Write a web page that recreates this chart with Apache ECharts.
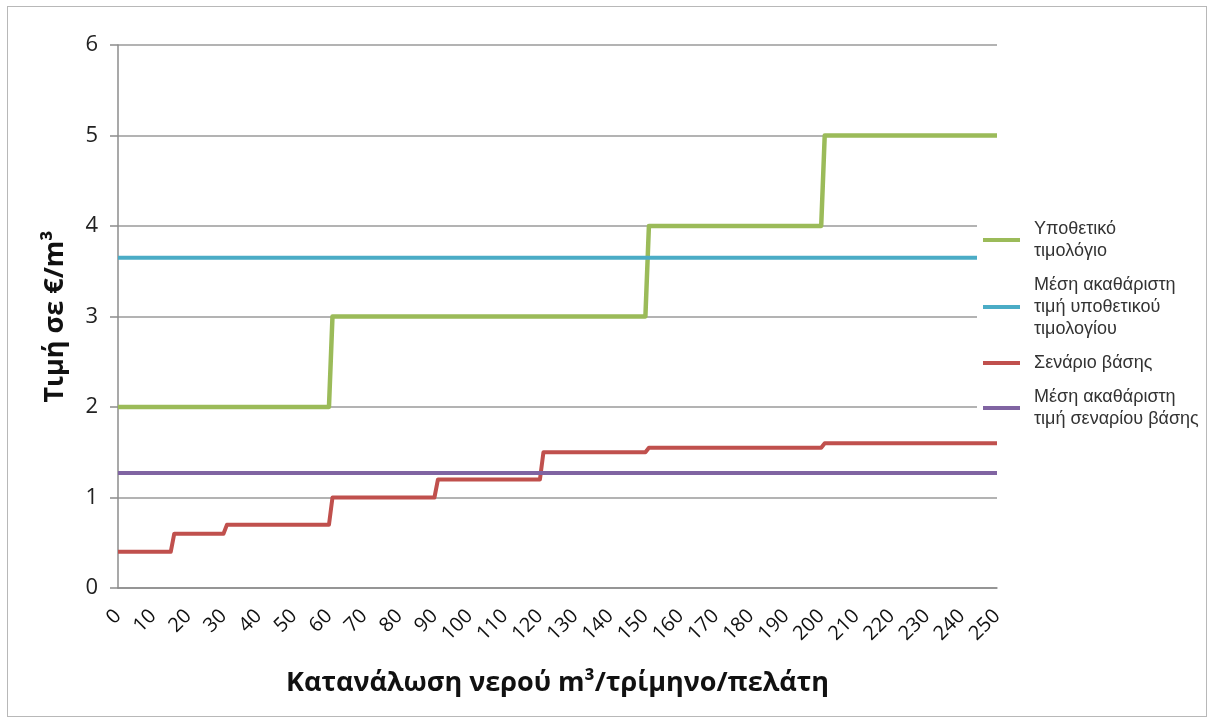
<!DOCTYPE html>
<html>
<head>
<meta charset="utf-8">
<script src="https://cdn.jsdelivr.net/npm/echarts@6/dist/echarts.min.js"></script>
<style>
  html, body { margin: 0; padding: 0; background: #fff; }
  #frame { position: absolute; left: 7px; top: 6px; width: 1198px; height: 709px; border: 1px solid #b8b8b8; z-index: 2; pointer-events: none; }
  #chart { position: absolute; left: 0; top: 0; width: 1211px; height: 722px; }
</style>
</head>
<body>
<div id="chart"></div>
<div id="frame"></div>
<script>
// series names (legend text, wrapped like the original)
var names = [
    'Υποθετικό\nτιμολόγιο',
    'Μέση ακαθάριστη\nτιμή υποθετικού\nτιμολογίου',
    'Σενάριο βάσης',
    'Μέση ακαθάριστη\nτιμή σεναρίου βάσης'
];

// [m3, €/m3] step points
var hypothetical = [[0, 2], [60, 2], [61, 3], [150, 3], [151, 4], [200, 4], [201, 5], [250, 5]];
var hypotheticalAvg = [[0, 3.65], [250, 3.65]];
var baseScenario = [[0, 0.4], [15, 0.4], [16, 0.6], [30, 0.6], [31, 0.7], [60, 0.7], [61, 1.0], [90, 1.0],
    [91, 1.2], [120, 1.2], [121, 1.5], [150, 1.5], [151, 1.55], [200, 1.55], [201, 1.6], [250, 1.6]];
var baseAvg = [[0, 1.27], [250, 1.27]];

var colors = ['#9bbb59', '#4bacc6', '#c0504d', '#8064a2'];

var chart = echarts.init(document.getElementById('chart'), null, {renderer: 'canvas'});

function line(name, data, color, w) {
    return {
        name: name,
        type: 'line',
        data: data,
        symbol: 'none',
        color: color,
        lineStyle: {width: w, color: color, join: 'round'},
        z: 3
    };
}

chart.setOption({
    animation: false,
    color: colors,
    grid: {left: 118, right: 214, top: 45, bottom: 134},
    legend: {
        orient: 'vertical',
        left: 977,
        top: 212,
        padding: [6, 2, 6, 6],
        backgroundColor: '#fff',
        icon: 'rect',
        itemWidth: 37,
        itemHeight: 4,
        itemGap: 12,
        textStyle: {fontFamily: 'Liberation Sans', fontSize: 18, color: '#333', lineHeight: 22, padding: [0, 0, 0, 9]},
        data: names
    },
    xAxis: {
        type: 'value',
        min: 0,
        max: 250,
        interval: 10,
        axisLine: {show: true, lineStyle: {color: '#8c8c8c', width: 1.5}},
        axisTick: {show: false},
        splitLine: {show: false},
        axisLabel: {rotate: 45, margin: 25, fontFamily: 'Open Sans', fontSize: 20, color: '#111'},
        name: 'Κατανάλωση νερού m³/τρίμηνο/πελάτη',
        nameLocation: 'middle',
        nameGap: 82,
        nameTextStyle: {fontFamily: 'Open Sans', fontWeight: 'bold', fontSize: 27, color: '#111'}
    },
    yAxis: {
        type: 'value',
        min: 0,
        max: 6,
        interval: 1,
        axisLine: {show: true, lineStyle: {color: '#8c8c8c', width: 1.5}},
        axisTick: {show: true, length: 8, lineStyle: {color: '#8c8c8c', width: 1.5}},
        splitLine: {lineStyle: {color: '#9a9a9a', width: 1.5}},
        axisLabel: {margin: 20, fontFamily: 'Open Sans', fontSize: 22, color: '#222'},
        name: 'Τιμή σε €/m³',
        nameLocation: 'middle',
        nameGap: 49,
        nameTextStyle: {fontFamily: 'Open Sans', fontWeight: 'bold', fontSize: 27, color: '#111'}
    },
    series: [
        line(names[0], hypothetical, colors[0], 4.5),
        line(names[1], hypotheticalAvg, colors[1], 4),
        line(names[2], baseScenario, colors[2], 4),
        line(names[3], baseAvg, colors[3], 4)
    ]
});
</script>
</body>
</html>
